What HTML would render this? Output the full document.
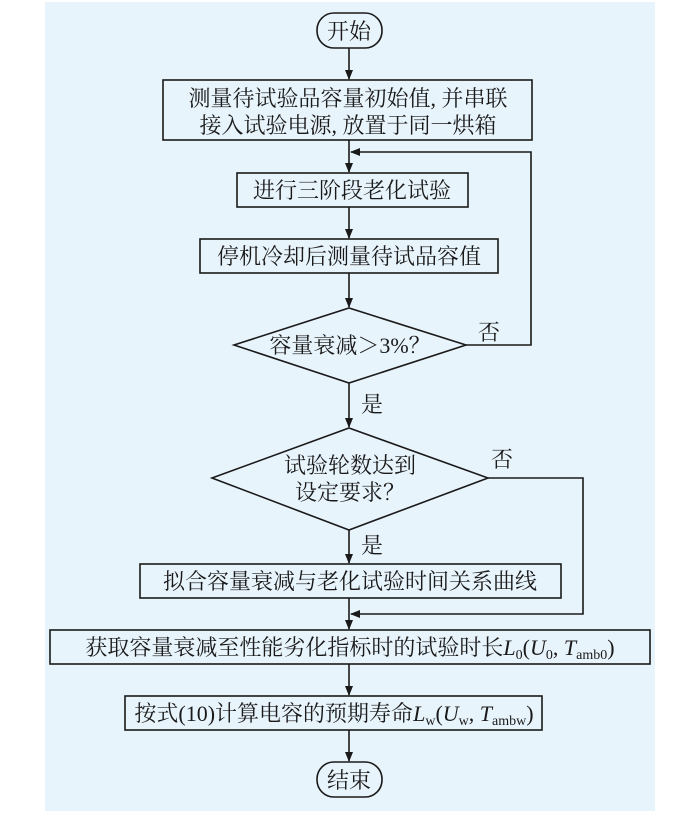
<!DOCTYPE html>
<html><head><meta charset="utf-8"><style>
body{margin:0;background:#fff;}
svg text{font-family:"Liberation Serif","Noto Serif CJK SC",serif;font-size:22px;fill:#1a1a1a;}
</style></head><body>
<svg width="700" height="811" viewBox="0 0 700 811" xmlns="http://www.w3.org/2000/svg">
<defs><marker id="a" markerWidth="10" markerHeight="10" refX="9" refY="5" orient="auto" markerUnits="userSpaceOnUse"><path d="M0,1 L10,5 L0,9 Z" fill="#1a1a1a"/></marker></defs>
<rect x="45" y="2" width="610" height="809" fill="#e8f4fc"/>
<g stroke="#1a1a1a" stroke-width="1.6" fill="none">
<rect x="317" y="13" width="65" height="35" rx="17"/>
<rect x="163" y="80" width="369" height="60"/>
<rect x="237" y="173" width="231" height="34"/>
<rect x="200" y="239" width="298" height="34"/>
<polygon points="234,345 349,308 466,345 349,383"/>
<polygon points="212,478 349,428 488,478 349,530"/>
<rect x="140" y="564" width="421" height="34"/>
<rect x="50" y="630" width="600" height="34"/>
<rect x="125" y="696" width="417" height="34"/>
<rect x="317" y="762" width="65" height="35" rx="17"/>
<line x1="349" y1="48" x2="349" y2="79" marker-end="url(#a)"/>
<line x1="349" y1="140" x2="349" y2="172" marker-end="url(#a)"/>
<line x1="349" y1="207" x2="349" y2="238" marker-end="url(#a)"/>
<line x1="349" y1="273" x2="349" y2="307" marker-end="url(#a)"/>
<line x1="349" y1="383" x2="349" y2="427" marker-end="url(#a)"/>
<line x1="349" y1="530" x2="349" y2="563" marker-end="url(#a)"/>
<line x1="349" y1="598" x2="349" y2="629" marker-end="url(#a)"/>
<line x1="349" y1="664" x2="349" y2="695" marker-end="url(#a)"/>
<line x1="349" y1="730" x2="349" y2="761" marker-end="url(#a)"/>
<polyline points="466,345 531,345 531,152 351,152" marker-end="url(#a)"/>
<polyline points="488,478 583,478 583,614 351,614" marker-end="url(#a)"/>
</g>
<g text-anchor="middle">
<text x="349" y="39">开始</text>
<text x="348" y="106">测量待试验品容量初始值, 并串联</text>
<text x="348" y="133">接入试验电源, 放置于同一烘箱</text>
<text x="352" y="198">进行三阶段老化试验</text>
<text x="349" y="264">停机冷却后测量待试品容值</text>
<text x="350" y="353">容量衰减＞3%？</text>
<text x="350" y="473">试验轮数达到</text>
<text x="350" y="500">设定要求？</text>
<text x="350" y="589">拟合容量衰减与老化试验时间关系曲线</text>
<text x="350" y="655">获取容量衰减至性能劣化指标时的试验时长<tspan font-style="italic">L</tspan><tspan font-size="14" dy="4">0</tspan><tspan dy="-4">(</tspan><tspan font-style="italic">U</tspan><tspan font-size="14" dy="4">0</tspan><tspan dy="-4">, </tspan><tspan font-style="italic">T</tspan><tspan font-size="14" dy="4">amb0</tspan><tspan dy="-4">)</tspan></text>
<text x="334" y="721">按式(10)计算电容的预期寿命<tspan font-style="italic">L</tspan><tspan font-size="14" dy="4">w</tspan><tspan dy="-4">(</tspan><tspan font-style="italic">U</tspan><tspan font-size="14" dy="4">w</tspan><tspan dy="-4">, </tspan><tspan font-style="italic">T</tspan><tspan font-size="14" dy="4">ambw</tspan><tspan dy="-4">)</tspan></text>
<text x="349" y="788">结束</text>
<text x="489" y="340">否</text>
<text x="372" y="412">是</text>
<text x="502" y="467">否</text>
<text x="372" y="553">是</text>
</g>
</svg>
</body></html>
